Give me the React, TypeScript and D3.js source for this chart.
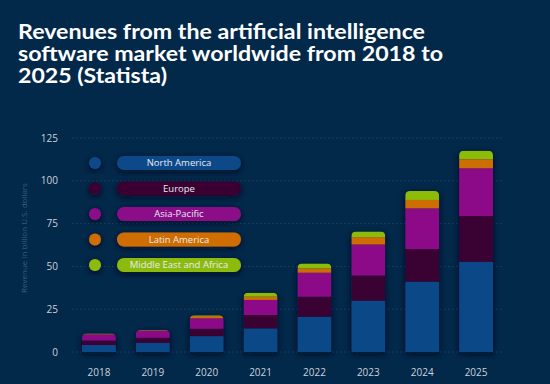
import React from "react";
import * as d3 from "d3";

const years = ["2018", "2019", "2020", "2021", "2022", "2023", "2024", "2025"];
const northAmerica = [4.1, 5.4, 9.3, 13.8, 20.6, 30.0, 41.1, 52.7];
const europe = [2.6, 2.9, 4.3, 7.8, 11.7, 14.7, 19.0, 26.7];
const asiaPacific = [3.6, 4.2, 6.1, 8.8, 14.0, 18.1, 23.8, 27.9];
const latinAmerica = [0.3, 0.2, 1.3, 1.9, 2.5, 4.3, 4.9, 5.3];
const middleEastAfrica = [0.2, 0.2, 0.4, 2.3, 2.9, 3.3, 5.3, 5.0];
const seriesNames = ["North America", "Europe", "Asia-Pacific", "Latin America", "Middle East and Africa"];
const yTicks = [0, 25, 50, 75, 100, 125];
const titleLines = [
  "Revenues from the artificial intelligence",
  "software market worldwide from 2018 to",
  "2025 (Statista)",
];

const colors = ["#0b4888", "#3a0133", "#8c0a88", "#cf6d05", "#8cbb08"];
const bg = "#02284a";

const W = 550;
const H = 384;

export default function App() {
  const rows = years.map((y, i) => ({
    year: y,
    "North America": northAmerica[i],
    Europe: europe[i],
    "Asia-Pacific": asiaPacific[i],
    "Latin America": latinAmerica[i],
    "Middle East and Africa": middleEastAfrica[i],
  }));
  const stacked = d3.stack<any>().keys(seriesNames)(rows);

  const x = d3.scaleBand().domain(years).range([72, 503]).paddingInner(0.37).paddingOuter(0.185);
  const y = d3.scaleLinear().domain([0, 125]).range([352, 138]);

  const totals = stacked[stacked.length - 1].map((d) => d[1]);
  const bw = x.bandwidth();
  const r = 5;

  // rounded-top outline of a whole stacked bar
  const barOutline = (i: number) => {
    const x0 = x(years[i])!;
    const top = y(totals[i]);
    const bottom = y(0);
    return `M${x0},${bottom}V${top + r}Q${x0},${top} ${x0 + r},${top}H${x0 + bw - r}Q${x0 + bw},${top} ${x0 + bw},${top + r}V${bottom}Z`;
  };

  const legendY = d3.scaleLinear().domain([0, 4]).range([163, 265]);
  const titleWidths = [407, 425, 149];

  return (
    <svg width={W} height={H} style={{ position: "absolute", left: 0, top: 0, background: bg }}>
      <defs>
        <filter id="shadow" x="-40%" y="-40%" width="180%" height="180%">
          <feDropShadow dx="0" dy="2" stdDeviation="3" floodColor="#001022" floodOpacity="0.85" />
        </filter>
        {years.map((yr, i) => (
          <clipPath id={`clip${i}`} key={yr}>
            <path d={barOutline(i)} />
          </clipPath>
        ))}
      </defs>
      <rect width={W} height={H} fill={bg} />

      <g fill="#ffffff" fontFamily="Lato, 'Open Sans', sans-serif" fontWeight={700} fontSize={20.5}>
        {titleLines.map((t, i) => (
          <text key={i} x={18} y={39 + i * 22} textLength={titleWidths[i]} lengthAdjust="spacingAndGlyphs">
            {t}
          </text>
        ))}
      </g>

      {/* grid */}
      <g>
        {yTicks.map((t) => (
          <g key={t}>
            <line x1={72} x2={503} y1={y(t)} y2={y(t)} stroke="#1d4468" strokeWidth={1} strokeDasharray="1.5,2.5" />
            <text x={58} y={y(t)} dy="0.35em" textAnchor="end" fill="#c9d2dc" fontSize={10} fontFamily="'Open Sans', sans-serif">
              {t}
            </text>
          </g>
        ))}
      </g>

      <text
        transform={`translate(24,238) rotate(-90)`}
        textAnchor="middle"
        dy="0.35em"
        fill="#3c5d7e"
        fontSize={8}
        fontFamily="'Open Sans', sans-serif"
      >
        Revenue in billion U.S. dollars
      </text>

      {/* bars */}
      <g>
        {years.map((yr, i) => (
          <g key={yr}>
            <path d={barOutline(i)} fill={bg} filter="url(#shadow)" />
            <g clipPath={`url(#clip${i})`}>
              {stacked.map((s, k) => (
                <rect
                  key={s.key}
                  x={x(yr)}
                  y={y(s[i][1])}
                  width={bw}
                  height={Math.max(0, y(s[i][0]) - y(s[i][1]))}
                  fill={colors[k]}
                />
              ))}
            </g>
          </g>
        ))}
      </g>

      {/* x labels */}
      {years.map((yr) => (
        <text
          key={yr}
          x={x(yr)! + bw / 2}
          y={376}
          textAnchor="middle"
          fill="#c9d2dc"
          fontSize={10}
          fontFamily="'Open Sans', sans-serif"
        >
          {yr}
        </text>
      ))}

      {/* legend */}
      {seriesNames.map((name, k) => {
        const cy = legendY(k);
        return (
          <g key={name}>
            <circle cx={95} cy={cy} r={6} fill={colors[k]} filter="url(#shadow)" />
            <rect x={117} y={cy - 7} width={124} height={14} rx={7} fill={colors[k]} filter="url(#shadow)" />
            <text
              x={179}
              y={cy}
              dy="0.35em"
              textAnchor="middle"
              fill="#e6ecf2"
              fontSize={9.5}
              fontFamily="'Open Sans', sans-serif"
            >
              {name}
            </text>
          </g>
        );
      })}
    </svg>
  );
}
